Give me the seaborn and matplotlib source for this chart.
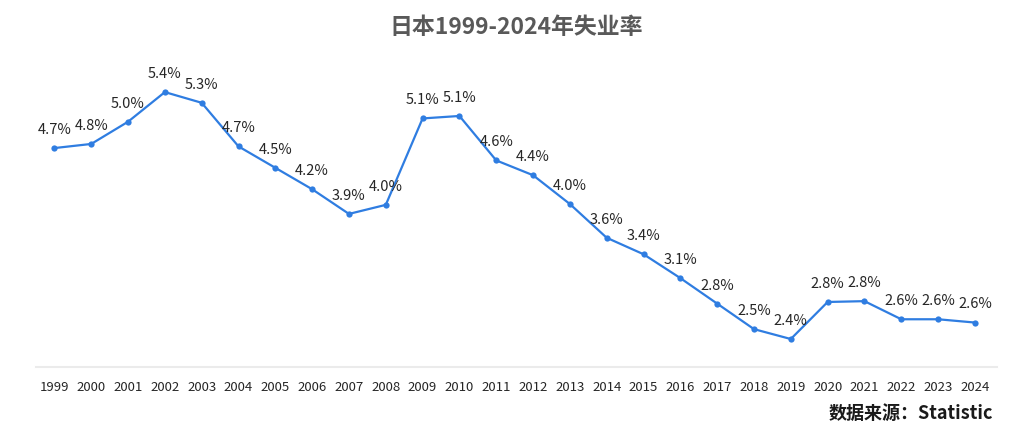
import numpy as np
import matplotlib
matplotlib.use('Agg')
import matplotlib.pyplot as plt
import seaborn as sns
import pandas as pd

#%% data
years = [str(y) for y in range(1999, 2025)]
rate = [4.72, 4.77, 5.04, 5.40, 5.27, 4.74, 4.48, 4.22, 3.92, 4.03,
        5.08, 5.11, 4.57, 4.39, 4.04, 3.63, 3.43, 3.14, 2.83, 2.52,
        2.40, 2.85, 2.86, 2.64, 2.64, 2.60]
rate_labels = ['4.7%', '4.8%', '5.0%', '5.4%', '5.3%', '4.7%', '4.5%', '4.2%', '3.9%', '4.0%',
               '5.1%', '5.1%', '4.6%', '4.4%', '4.0%', '3.6%', '3.4%', '3.1%', '2.8%', '2.5%',
               '2.4%', '2.8%', '2.8%', '2.6%', '2.6%', '2.6%']
title = '日本1999-2024年失业率'
source = '数据来源：Statistic'

df = pd.DataFrame({'year': years, 'rate': rate})
df['idx'] = np.arange(len(years))

#%% style
sns.set_theme(style='white')
plt.rcParams['font.family'] = ['Noto Sans CJK SC', 'DejaVu Sans']
line_color = '#2f7de1'

fig = plt.figure(figsize=(10.24, 4.41), dpi=100)
ax = fig.add_axes([36/1024, 1-367/441, (997-36)/1024, (367-60)/441])

sns.lineplot(data=df, x='idx', y='rate', ax=ax, color=line_color, linewidth=1.6,
             marker='o', markersize=4.5, markeredgewidth=0)

# value labels above each point
for i, (v, lab) in enumerate(zip(rate, rate_labels)):
    ax.annotate(lab, (i, v), xytext=(0, 13), textcoords='offset points',
                ha='center', va='center', fontsize=10.5, color='#262626')

ax.set_xlim(-0.5, len(years) - 0.4)
ax.set_ylim(2.06, 5.79)
ax.set_xticks(df['idx'])
ax.set_xticklabels(years, fontsize=9.5, color='#262626')
ax.set_yticks([])
ax.set_xlabel('')
ax.set_ylabel('')
ax.tick_params(axis='x', length=0, pad=10)
for s in ['top', 'right', 'left']:
    ax.spines[s].set_visible(False)
ax.spines['bottom'].set_color('#ebebeb')
ax.spines['bottom'].set_linewidth(1.5)

fig.text(516/1024, 1-28/441, title, ha='center', va='center', fontsize=16.5,
         fontweight='bold', color='#595959')
fig.text(993/1024, 1-413/441, source, ha='right', va='center', fontsize=13,
         fontweight='bold', color='#1a1a1a')

fig.savefig('out.png', dpi=100)
